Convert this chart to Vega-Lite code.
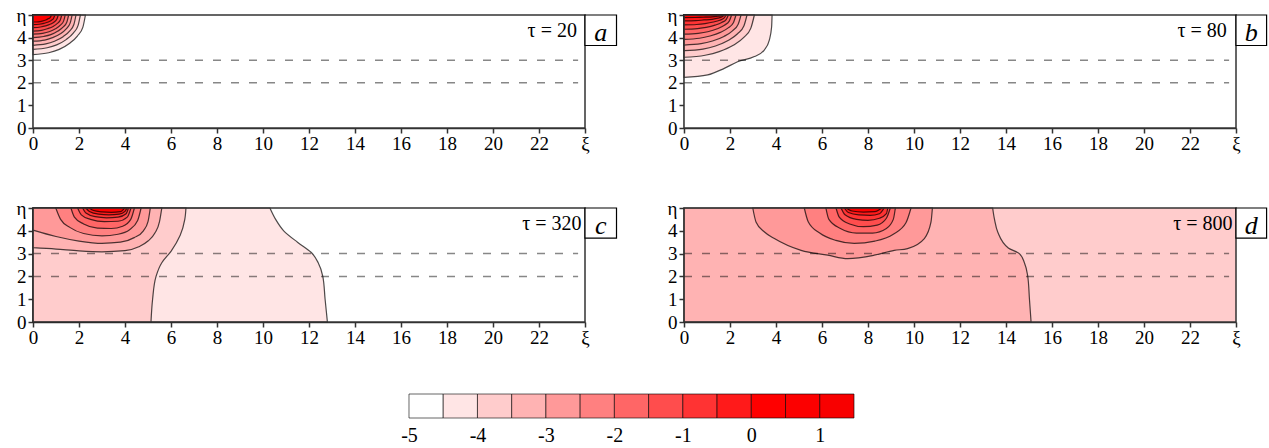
{
  "$schema": "https://vega.github.io/schema/vega-lite/v6.json",
  "padding": {"left": 16, "top": 6, "right": 2, "bottom": 2},
  "background": "#ffffff",
  "config": {
    "view": {"stroke": null},
    "font": "Liberation Serif",
    "text": {"font": "Liberation Serif"},
    "axis": {"domainColor": "#333333", "domainWidth": 1.5, "tickColor": "#333333", "tickWidth": 1.5, "tickSize": 5, "labelFont": "Liberation Serif", "labelFontSize": 19, "labelColor": "#000000", "grid": false, "labelFlush": false, "labelOverlap": false}
  },
  "datasets": {
    "rings": [
      {"p":"a","lv":"L02","x":0,"y":3.25},{"p":"a","lv":"L02","x":0.684,"y":3.33},{"p":"a","lv":"L02","x":1.14,"y":3.48},{"p":"a","lv":"L02","x":1.596,"y":3.75},{"p":"a","lv":"L02","x":1.938,"y":4.08},{"p":"a","lv":"L02","x":2.166,"y":4.45},{"p":"a","lv":"L02","x":2.28,"y":5},
      {"p":"a","lv":"L03","x":0,"y":3.48},{"p":"a","lv":"L03","x":0.618,"y":3.55},{"p":"a","lv":"L03","x":1.03,"y":3.68},{"p":"a","lv":"L03","x":1.442,"y":3.91},{"p":"a","lv":"L03","x":1.751,"y":4.2},{"p":"a","lv":"L03","x":1.957,"y":4.53},{"p":"a","lv":"L03","x":2.06,"y":5},
      {"p":"a","lv":"L04","x":0,"y":3.66},{"p":"a","lv":"L04","x":0.561,"y":3.72},{"p":"a","lv":"L04","x":0.935,"y":3.84},{"p":"a","lv":"L04","x":1.309,"y":4.04},{"p":"a","lv":"L04","x":1.59,"y":4.29},{"p":"a","lv":"L04","x":1.777,"y":4.58},{"p":"a","lv":"L04","x":1.87,"y":5},
      {"p":"a","lv":"L05","x":0,"y":3.84},{"p":"a","lv":"L05","x":0.51,"y":3.89},{"p":"a","lv":"L05","x":0.85,"y":4.0},{"p":"a","lv":"L05","x":1.19,"y":4.17},{"p":"a","lv":"L05","x":1.445,"y":4.39},{"p":"a","lv":"L05","x":1.615,"y":4.64},{"p":"a","lv":"L05","x":1.7,"y":5},
      {"p":"a","lv":"L06","x":0,"y":4.0},{"p":"a","lv":"L06","x":0.465,"y":4.05},{"p":"a","lv":"L06","x":0.775,"y":4.13},{"p":"a","lv":"L06","x":1.085,"y":4.29},{"p":"a","lv":"L06","x":1.318,"y":4.47},{"p":"a","lv":"L06","x":1.473,"y":4.69},{"p":"a","lv":"L06","x":1.55,"y":5},
      {"p":"a","lv":"L07","x":0,"y":4.15},{"p":"a","lv":"L07","x":0.42,"y":4.19},{"p":"a","lv":"L07","x":0.7,"y":4.26},{"p":"a","lv":"L07","x":0.98,"y":4.39},{"p":"a","lv":"L07","x":1.19,"y":4.55},{"p":"a","lv":"L07","x":1.33,"y":4.73},{"p":"a","lv":"L07","x":1.4,"y":5},
      {"p":"a","lv":"L08","x":0,"y":4.29},{"p":"a","lv":"L08","x":0.375,"y":4.32},{"p":"a","lv":"L08","x":0.625,"y":4.39},{"p":"a","lv":"L08","x":0.875,"y":4.49},{"p":"a","lv":"L08","x":1.063,"y":4.63},{"p":"a","lv":"L08","x":1.188,"y":4.78},{"p":"a","lv":"L08","x":1.25,"y":5},
      {"p":"a","lv":"L09","x":0,"y":4.44},{"p":"a","lv":"L09","x":0.33,"y":4.47},{"p":"a","lv":"L09","x":0.55,"y":4.52},{"p":"a","lv":"L09","x":0.77,"y":4.6},{"p":"a","lv":"L09","x":0.935,"y":4.7},{"p":"a","lv":"L09","x":1.045,"y":4.83},{"p":"a","lv":"L09","x":1.1,"y":5},
      {"p":"a","lv":"L10","x":0,"y":4.57},{"p":"a","lv":"L10","x":0.285,"y":4.59},{"p":"a","lv":"L10","x":0.475,"y":4.63},{"p":"a","lv":"L10","x":0.665,"y":4.69},{"p":"a","lv":"L10","x":0.808,"y":4.77},{"p":"a","lv":"L10","x":0.903,"y":4.87},{"p":"a","lv":"L10","x":0.95,"y":5},
      {"p":"a","lv":"L11","x":0,"y":4.69},{"p":"a","lv":"L11","x":0.24,"y":4.7},{"p":"a","lv":"L11","x":0.4,"y":4.73},{"p":"a","lv":"L11","x":0.56,"y":4.78},{"p":"a","lv":"L11","x":0.68,"y":4.84},{"p":"a","lv":"L11","x":0.76,"y":4.9},{"p":"a","lv":"L11","x":0.8,"y":5},

      {"p":"b","lv":"L02","x":0,"y":2.24},{"p":"b","lv":"L02","x":1.03,"y":2.35},{"p":"b","lv":"L02","x":1.75,"y":2.64},{"p":"b","lv":"L02","x":2.33,"y":2.93},{"p":"b","lv":"L02","x":3.06,"y":3.16},{"p":"b","lv":"L02","x":3.49,"y":3.45},{"p":"b","lv":"L02","x":3.71,"y":3.89},{"p":"b","lv":"L02","x":3.81,"y":4.48},{"p":"b","lv":"L02","x":3.83,"y":5},
      {"p":"b","lv":"L03","x":0,"y":3.13},{"p":"b","lv":"L03","x":0.918,"y":3.22},{"p":"b","lv":"L03","x":1.53,"y":3.38},{"p":"b","lv":"L03","x":2.142,"y":3.66},{"p":"b","lv":"L03","x":2.601,"y":4.01},{"p":"b","lv":"L03","x":2.907,"y":4.42},{"p":"b","lv":"L03","x":3.06,"y":5},
      {"p":"b","lv":"L04","x":0,"y":3.42},{"p":"b","lv":"L04","x":0.822,"y":3.49},{"p":"b","lv":"L04","x":1.37,"y":3.63},{"p":"b","lv":"L04","x":1.918,"y":3.87},{"p":"b","lv":"L04","x":2.329,"y":4.17},{"p":"b","lv":"L04","x":2.603,"y":4.51},{"p":"b","lv":"L04","x":2.74,"y":5},
      {"p":"b","lv":"L05","x":0,"y":3.67},{"p":"b","lv":"L05","x":0.744,"y":3.73},{"p":"b","lv":"L05","x":1.24,"y":3.85},{"p":"b","lv":"L05","x":1.736,"y":4.05},{"p":"b","lv":"L05","x":2.108,"y":4.3},{"p":"b","lv":"L05","x":2.356,"y":4.59},{"p":"b","lv":"L05","x":2.48,"y":5},
      {"p":"b","lv":"L06","x":0,"y":3.92},{"p":"b","lv":"L06","x":0.678,"y":3.97},{"p":"b","lv":"L06","x":1.13,"y":4.07},{"p":"b","lv":"L06","x":1.582,"y":4.23},{"p":"b","lv":"L06","x":1.921,"y":4.43},{"p":"b","lv":"L06","x":2.147,"y":4.66},{"p":"b","lv":"L06","x":2.26,"y":5},
      {"p":"b","lv":"L07","x":0,"y":4.15},{"p":"b","lv":"L07","x":0.621,"y":4.19},{"p":"b","lv":"L07","x":1.035,"y":4.26},{"p":"b","lv":"L07","x":1.449,"y":4.39},{"p":"b","lv":"L07","x":1.76,"y":4.55},{"p":"b","lv":"L07","x":1.967,"y":4.73},{"p":"b","lv":"L07","x":2.07,"y":5},
      {"p":"b","lv":"L08","x":0,"y":4.37},{"p":"b","lv":"L08","x":0.579,"y":4.4},{"p":"b","lv":"L08","x":0.965,"y":4.45},{"p":"b","lv":"L08","x":1.351,"y":4.55},{"p":"b","lv":"L08","x":1.641,"y":4.67},{"p":"b","lv":"L08","x":1.834,"y":4.8},{"p":"b","lv":"L08","x":1.93,"y":5},
      {"p":"b","lv":"L09","x":0,"y":4.56},{"p":"b","lv":"L09","x":0.549,"y":4.58},{"p":"b","lv":"L09","x":0.915,"y":4.62},{"p":"b","lv":"L09","x":1.281,"y":4.69},{"p":"b","lv":"L09","x":1.556,"y":4.77},{"p":"b","lv":"L09","x":1.739,"y":4.86},{"p":"b","lv":"L09","x":1.83,"y":5},
      {"p":"b","lv":"L10","x":0,"y":4.74},{"p":"b","lv":"L10","x":0.522,"y":4.75},{"p":"b","lv":"L10","x":0.87,"y":4.78},{"p":"b","lv":"L10","x":1.218,"y":4.81},{"p":"b","lv":"L10","x":1.479,"y":4.86},{"p":"b","lv":"L10","x":1.653,"y":4.92},{"p":"b","lv":"L10","x":1.74,"y":5},
      {"p":"b","lv":"L11","x":0,"y":4.88},{"p":"b","lv":"L11","x":0.498,"y":4.89},{"p":"b","lv":"L11","x":0.83,"y":4.9},{"p":"b","lv":"L11","x":1.162,"y":4.91},{"p":"b","lv":"L11","x":1.411,"y":4.94},{"p":"b","lv":"L11","x":1.577,"y":4.96},{"p":"b","lv":"L11","x":1.66,"y":5},

      {"p":"c","lv":"L04","x":0,"y":3.26},{"p":"c","lv":"L04","x":1,"y":3.2},{"p":"c","lv":"L04","x":2,"y":3.12},{"p":"c","lv":"L04","x":3,"y":3.08},{"p":"c","lv":"L04","x":4,"y":3.13},{"p":"c","lv":"L04","x":4.6,"y":3.3},{"p":"c","lv":"L04","x":5.0,"y":3.55},{"p":"c","lv":"L04","x":5.3,"y":3.9},{"p":"c","lv":"L04","x":5.5,"y":4.4},{"p":"c","lv":"L04","x":5.6,"y":5},
      {"p":"c","lv":"L05","x":0,"y":4.03},{"p":"c","lv":"L05","x":1,"y":3.75},{"p":"c","lv":"L05","x":2,"y":3.55},{"p":"c","lv":"L05","x":3,"y":3.45},{"p":"c","lv":"L05","x":3.8,"y":3.5},{"p":"c","lv":"L05","x":4.4,"y":3.7},{"p":"c","lv":"L05","x":4.8,"y":4.0},{"p":"c","lv":"L05","x":5.0,"y":4.4},{"p":"c","lv":"L05","x":5.1,"y":5},
      {"p":"c","lv":"L06","x":0.99,"y":5},{"p":"c","lv":"L06","x":1.2,"y":4.5},{"p":"c","lv":"L06","x":1.6,"y":4.15},{"p":"c","lv":"L06","x":2.2,"y":3.88},{"p":"c","lv":"L06","x":3.0,"y":3.78},{"p":"c","lv":"L06","x":3.7,"y":3.85},{"p":"c","lv":"L06","x":4.2,"y":4.05},{"p":"c","lv":"L06","x":4.55,"y":4.45},{"p":"c","lv":"L06","x":4.7,"y":5},
      {"p":"c","lv":"L07","x":1.65,"y":5},{"p":"c","lv":"L07","x":1.8,"y":4.6},{"p":"c","lv":"L07","x":2.2,"y":4.3},{"p":"c","lv":"L07","x":2.8,"y":4.12},{"p":"c","lv":"L07","x":3.4,"y":4.1},{"p":"c","lv":"L07","x":3.9,"y":4.2},{"p":"c","lv":"L07","x":4.25,"y":4.5},{"p":"c","lv":"L07","x":4.41,"y":5},
      {"p":"c","lv":"L08","x":1.94,"y":5},{"p":"c","lv":"L08","x":2.1,"y":4.7},{"p":"c","lv":"L08","x":2.5,"y":4.5},{"p":"c","lv":"L08","x":3.1,"y":4.4},{"p":"c","lv":"L08","x":3.7,"y":4.42},{"p":"c","lv":"L08","x":4.1,"y":4.6},{"p":"c","lv":"L08","x":4.26,"y":5},
      {"p":"c","lv":"L09","x":2.16,"y":5},{"p":"c","lv":"L09","x":2.3,"y":4.78},{"p":"c","lv":"L09","x":2.7,"y":4.62},{"p":"c","lv":"L09","x":3.2,"y":4.57},{"p":"c","lv":"L09","x":3.7,"y":4.6},{"p":"c","lv":"L09","x":4.05,"y":4.75},{"p":"c","lv":"L09","x":4.15,"y":5},
      {"p":"c","lv":"L10","x":2.3,"y":5},{"p":"c","lv":"L10","x":2.45,"y":4.85},{"p":"c","lv":"L10","x":2.85,"y":4.73},{"p":"c","lv":"L10","x":3.3,"y":4.7},{"p":"c","lv":"L10","x":3.75,"y":4.73},{"p":"c","lv":"L10","x":4.0,"y":4.85},{"p":"c","lv":"L10","x":4.08,"y":5},
      {"p":"c","lv":"L11","x":2.45,"y":5},{"p":"c","lv":"L11","x":2.6,"y":4.9},{"p":"c","lv":"L11","x":3.0,"y":4.83},{"p":"c","lv":"L11","x":3.4,"y":4.81},{"p":"c","lv":"L11","x":3.8,"y":4.84},{"p":"c","lv":"L11","x":3.98,"y":5},

      {"p":"d","lv":"L05","x":2.99,"y":5},{"p":"d","lv":"L05","x":3.13,"y":4.39},{"p":"d","lv":"L05","x":3.5,"y":3.95},{"p":"d","lv":"L05","x":3.93,"y":3.66},{"p":"d","lv":"L05","x":5.09,"y":3.14},{"p":"d","lv":"L05","x":6.25,"y":2.93},{"p":"d","lv":"L05","x":7.12,"y":2.78},{"p":"d","lv":"L05","x":8.27,"y":2.93},{"p":"d","lv":"L05","x":9.14,"y":3.14},{"p":"d","lv":"L05","x":9.72,"y":3.22},{"p":"d","lv":"L05","x":10.45,"y":3.66},{"p":"d","lv":"L05","x":10.74,"y":4.39},{"p":"d","lv":"L05","x":10.8,"y":5},
      {"p":"d","lv":"L06","x":5.23,"y":5},{"p":"d","lv":"L06","x":5.4,"y":4.4},{"p":"d","lv":"L06","x":5.9,"y":3.9},{"p":"d","lv":"L06","x":6.6,"y":3.58},{"p":"d","lv":"L06","x":7.4,"y":3.45},{"p":"d","lv":"L06","x":8.3,"y":3.55},{"p":"d","lv":"L06","x":9.1,"y":3.85},{"p":"d","lv":"L06","x":9.65,"y":4.35},{"p":"d","lv":"L06","x":9.87,"y":5},
      {"p":"d","lv":"L07","x":6.17,"y":5},{"p":"d","lv":"L07","x":6.3,"y":4.5},{"p":"d","lv":"L07","x":6.8,"y":4.1},{"p":"d","lv":"L07","x":7.5,"y":3.9},{"p":"d","lv":"L07","x":8.2,"y":3.9},{"p":"d","lv":"L07","x":8.8,"y":4.1},{"p":"d","lv":"L07","x":9.1,"y":4.5},{"p":"d","lv":"L07","x":9.19,"y":5},
      {"p":"d","lv":"L08","x":6.61,"y":5},{"p":"d","lv":"L08","x":6.75,"y":4.6},{"p":"d","lv":"L08","x":7.2,"y":4.3},{"p":"d","lv":"L08","x":7.8,"y":4.18},{"p":"d","lv":"L08","x":8.4,"y":4.25},{"p":"d","lv":"L08","x":8.8,"y":4.55},{"p":"d","lv":"L08","x":8.97,"y":5},
      {"p":"d","lv":"L09","x":6.83,"y":5},{"p":"d","lv":"L09","x":7.0,"y":4.7},{"p":"d","lv":"L09","x":7.5,"y":4.5},{"p":"d","lv":"L09","x":8.0,"y":4.46},{"p":"d","lv":"L09","x":8.5,"y":4.55},{"p":"d","lv":"L09","x":8.8,"y":4.75},{"p":"d","lv":"L09","x":8.86,"y":5},
      {"p":"d","lv":"L10","x":6.97,"y":5},{"p":"d","lv":"L10","x":7.15,"y":4.8},{"p":"d","lv":"L10","x":7.6,"y":4.7},{"p":"d","lv":"L10","x":8.1,"y":4.68},{"p":"d","lv":"L10","x":8.5,"y":4.75},{"p":"d","lv":"L10","x":8.7,"y":5},
      {"p":"d","lv":"L11","x":7.05,"y":5},{"p":"d","lv":"L11","x":7.3,"y":4.87},{"p":"d","lv":"L11","x":7.8,"y":4.82},{"p":"d","lv":"L11","x":8.3,"y":4.84},{"p":"d","lv":"L11","x":8.6,"y":5}
    ],
    "bounds": [
      {"p":"c","lv":"L02","y":0,"x":12.8},{"p":"c","lv":"L02","y":1,"x":12.7},{"p":"c","lv":"L02","y":2,"x":12.6},{"p":"c","lv":"L02","y":2.6,"x":12.4},{"p":"c","lv":"L02","y":3.05,"x":12.1},{"p":"c","lv":"L02","y":3.5,"x":11.5},{"p":"c","lv":"L02","y":4.0,"x":10.9},{"p":"c","lv":"L02","y":4.5,"x":10.55},{"p":"c","lv":"L02","y":5,"x":10.3},
      {"p":"c","lv":"L03","y":0,"x":5.13},{"p":"c","lv":"L03","y":1,"x":5.2},{"p":"c","lv":"L03","y":2,"x":5.35},{"p":"c","lv":"L03","y":2.6,"x":5.6},{"p":"c","lv":"L03","y":3.1,"x":6.0},{"p":"c","lv":"L03","y":3.8,"x":6.4},{"p":"c","lv":"L03","y":4.5,"x":6.6},{"p":"c","lv":"L03","y":5,"x":6.65},
      {"p":"d","lv":"L04","y":0,"x":15.09},{"p":"d","lv":"L04","y":1,"x":15.02},{"p":"d","lv":"L04","y":2.05,"x":14.94},{"p":"d","lv":"L04","y":2.6,"x":14.8},{"p":"d","lv":"L04","y":3.0,"x":14.58},{"p":"d","lv":"L04","y":3.25,"x":14.1},{"p":"d","lv":"L04","y":3.95,"x":13.64},{"p":"d","lv":"L04","y":4.5,"x":13.5},{"p":"d","lv":"L04","y":5,"x":13.42}
    ],
    "legend": [
      {"lo":-5,"hi":-4.5,"lv":"L01"},{"lo":-4.5,"hi":-4,"lv":"L02"},{"lo":-4,"hi":-3.5,"lv":"L03"},{"lo":-3.5,"hi":-3,"lv":"L04"},{"lo":-3,"hi":-2.5,"lv":"L05"},{"lo":-2.5,"hi":-2,"lv":"L06"},{"lo":-2,"hi":-1.5,"lv":"L07"},{"lo":-1.5,"hi":-1,"lv":"L08"},{"lo":-1,"hi":-0.5,"lv":"L09"},{"lo":-0.5,"hi":0,"lv":"L10"},{"lo":0,"hi":0.5,"lv":"L11"},{"lo":0.5,"hi":1,"lv":"L12"},{"lo":1,"hi":1.5,"lv":"L13"}
    ]
  },
  "vconcat": [
    {
      "hconcat": [
        {
          "width": 552, "height": 113,
          "resolve": {"axis": {"x": "independent", "y": "independent"}},
          "layer": [
            {"data": {"values": [{}]}, "mark": {"type": "rect", "fill": "#ffffff"}, "encoding": {"x": {"datum": 0, "type": "quantitative", "scale": {"domain": [0, 24], "nice": false, "zero": false}, "axis": {"title": null, "values": [0,2,4,6,8,10,12,14,16,18,20,22,24], "labelExpr": "datum.value == 24 ? 'ξ' : datum.label", "labelPadding": 1, "labelOverlap": false}}, "x2": {"datum": 24}, "y": {"datum": 0, "type": "quantitative", "scale": {"domain": [0, 5], "nice": false, "zero": false}, "axis": {"title": null, "values": [0,1,2,3,4,5], "labelExpr": "datum.value == 5 ? 'η' : datum.label", "labelPadding": 2, "labelOverlap": false}}, "y2": {"datum": 5}}},
            {"data": {"name": "rings"}, "transform": [{"filter": "datum.p == 'a'"}], "mark": {"type": "area", "interpolate": "monotone", "stroke": "#000000", "strokeOpacity": 0.7, "strokeWidth": 1.2}, "encoding": {"x": {"field": "x", "type": "quantitative", "axis": null}, "y": {"field": "y", "type": "quantitative", "stack": null, "axis": null}, "y2": {"datum": 5}, "fill": {"field": "lv", "type": "nominal", "legend": null, "scale": {"domain": ["L01","L02","L03","L04","L05","L06","L07","L08","L09","L10","L11","L12","L13"], "range": ["#ffffff","#ffe5e5","#ffcccc","#ffb3b3","#ff9999","#ff8080","#ff6666","#ff4d4d","#ff3333","#ff1a1a","#ff0000","#fc0000","#f80000"]}}}},
            {"data": {"values": [{"eta": 2}, {"eta": 3}]}, "mark": {"type": "rule", "color": "#000000", "opacity": 0.47, "strokeWidth": 1.5, "strokeDash": [8, 10]}, "encoding": {"x": {"datum": 0, "type": "quantitative", "axis": null}, "x2": {"datum": 23.7}, "y": {"field": "eta", "type": "quantitative", "axis": null}}},
            {"data": {"values": [{}]}, "mark": {"type": "rect", "filled": false, "stroke": "#333333", "strokeWidth": 1.5}, "encoding": {"x": {"datum": 0, "type": "quantitative", "axis": null}, "x2": {"datum": 24}, "y": {"datum": 0, "type": "quantitative", "axis": null}, "y2": {"datum": 5}}},
            {"data": {"values": [{}]}, "mark": {"type": "text", "text": "τ = 20", "align": "right", "baseline": "alphabetic", "fontSize": 20, "color": "#000000"}, "encoding": {"x": {"datum": 23.65, "type": "quantitative", "axis": null}, "y": {"datum": 4.03, "type": "quantitative", "axis": null}}},
            {"data": {"values": [{}]}, "mark": {"type": "rect", "fill": "#ffffff", "stroke": "#000000", "strokeWidth": 1.2}, "encoding": {"x": {"datum": 24, "type": "quantitative", "axis": null}, "x2": {"datum": 25.37}, "y": {"datum": 5, "type": "quantitative", "axis": null}, "y2": {"datum": 3.65}}},
            {"data": {"values": [{}]}, "mark": {"type": "text", "text": "a", "align": "center", "baseline": "alphabetic", "fontStyle": "italic", "fontSize": 26, "color": "#000000"}, "encoding": {"x": {"datum": 24.685, "type": "quantitative", "axis": null}, "y": {"datum": 3.84, "type": "quantitative", "axis": null}}}
          ]
        },
        {
          "width": 552, "height": 113,
          "resolve": {"axis": {"x": "independent", "y": "independent"}},
          "layer": [
            {"data": {"values": [{}]}, "mark": {"type": "rect", "fill": "#ffffff"}, "encoding": {"x": {"datum": 0, "type": "quantitative", "scale": {"domain": [0, 24], "nice": false, "zero": false}, "axis": {"title": null, "values": [0,2,4,6,8,10,12,14,16,18,20,22,24], "labelExpr": "datum.value == 24 ? 'ξ' : datum.label", "labelPadding": 1, "labelOverlap": false}}, "x2": {"datum": 24}, "y": {"datum": 0, "type": "quantitative", "scale": {"domain": [0, 5], "nice": false, "zero": false}, "axis": {"title": null, "values": [0,1,2,3,4,5], "labelExpr": "datum.value == 5 ? 'η' : datum.label", "labelPadding": 2, "labelOverlap": false}}, "y2": {"datum": 5}}},
            {"data": {"name": "rings"}, "transform": [{"filter": "datum.p == 'b'"}], "mark": {"type": "area", "interpolate": "monotone", "stroke": "#000000", "strokeOpacity": 0.7, "strokeWidth": 1.2}, "encoding": {"x": {"field": "x", "type": "quantitative", "axis": null}, "y": {"field": "y", "type": "quantitative", "stack": null, "axis": null}, "y2": {"datum": 5}, "fill": {"field": "lv", "type": "nominal", "legend": null, "scale": {"domain": ["L01","L02","L03","L04","L05","L06","L07","L08","L09","L10","L11","L12","L13"], "range": ["#ffffff","#ffe5e5","#ffcccc","#ffb3b3","#ff9999","#ff8080","#ff6666","#ff4d4d","#ff3333","#ff1a1a","#ff0000","#fc0000","#f80000"]}}}},
            {"data": {"values": [{"eta": 2}, {"eta": 3}]}, "mark": {"type": "rule", "color": "#000000", "opacity": 0.47, "strokeWidth": 1.5, "strokeDash": [8, 10]}, "encoding": {"x": {"datum": 0, "type": "quantitative", "axis": null}, "x2": {"datum": 23.7}, "y": {"field": "eta", "type": "quantitative", "axis": null}}},
            {"data": {"values": [{}]}, "mark": {"type": "rect", "filled": false, "stroke": "#333333", "strokeWidth": 1.5}, "encoding": {"x": {"datum": 0, "type": "quantitative", "axis": null}, "x2": {"datum": 24}, "y": {"datum": 0, "type": "quantitative", "axis": null}, "y2": {"datum": 5}}},
            {"data": {"values": [{}]}, "mark": {"type": "text", "text": "τ = 80", "align": "right", "baseline": "alphabetic", "fontSize": 20, "color": "#000000"}, "encoding": {"x": {"datum": 23.6, "type": "quantitative", "axis": null}, "y": {"datum": 4.03, "type": "quantitative", "axis": null}}},
            {"data": {"values": [{}]}, "mark": {"type": "rect", "fill": "#ffffff", "stroke": "#000000", "strokeWidth": 1.2}, "encoding": {"x": {"datum": 24, "type": "quantitative", "axis": null}, "x2": {"datum": 25.33}, "y": {"datum": 5, "type": "quantitative", "axis": null}, "y2": {"datum": 3.65}}},
            {"data": {"values": [{}]}, "mark": {"type": "text", "text": "b", "align": "center", "baseline": "alphabetic", "fontStyle": "italic", "fontSize": 26, "color": "#000000"}, "encoding": {"x": {"datum": 24.665, "type": "quantitative", "axis": null}, "y": {"datum": 3.84, "type": "quantitative", "axis": null}}}
          ]
        }
      ],
      "spacing": 99,
      "bounds": "flush"
    },
    {
      "hconcat": [
        {
          "width": 552, "height": 114,
          "resolve": {"axis": {"x": "independent", "y": "independent"}},
          "layer": [
            {"data": {"values": [{}]}, "mark": {"type": "rect", "fill": "#ffffff"}, "encoding": {"x": {"datum": 0, "type": "quantitative", "scale": {"domain": [0, 24], "nice": false, "zero": false}, "axis": {"title": null, "values": [0,2,4,6,8,10,12,14,16,18,20,22,24], "labelExpr": "datum.value == 24 ? 'ξ' : datum.label", "labelPadding": 1, "labelOverlap": false}}, "x2": {"datum": 24}, "y": {"datum": 0, "type": "quantitative", "scale": {"domain": [0, 5], "nice": false, "zero": false}, "axis": {"title": null, "values": [0,1,2,3,4,5], "labelExpr": "datum.value == 5 ? 'η' : datum.label", "labelPadding": 2, "labelOverlap": false}}, "y2": {"datum": 5}}},
            {"data": {"name": "bounds"}, "transform": [{"filter": "datum.p == 'c'"}], "mark": {"type": "area", "orient": "horizontal", "interpolate": "monotone", "stroke": "#000000", "strokeOpacity": 0.7, "strokeWidth": 1.2}, "encoding": {"y": {"field": "y", "type": "quantitative", "axis": null}, "x": {"field": "x", "type": "quantitative", "stack": null, "axis": null}, "x2": {"datum": 0}, "fill": {"field": "lv", "type": "nominal", "legend": null, "scale": {"domain": ["L01","L02","L03","L04","L05","L06","L07","L08","L09","L10","L11","L12","L13"], "range": ["#ffffff","#ffe5e5","#ffcccc","#ffb3b3","#ff9999","#ff8080","#ff6666","#ff4d4d","#ff3333","#ff1a1a","#ff0000","#fc0000","#f80000"]}}}},
            {"data": {"name": "rings"}, "transform": [{"filter": "datum.p == 'c'"}], "mark": {"type": "area", "interpolate": "monotone", "stroke": "#000000", "strokeOpacity": 0.7, "strokeWidth": 1.2}, "encoding": {"x": {"field": "x", "type": "quantitative", "axis": null}, "y": {"field": "y", "type": "quantitative", "stack": null, "axis": null}, "y2": {"datum": 5}, "fill": {"field": "lv", "type": "nominal", "legend": null, "scale": {"domain": ["L01","L02","L03","L04","L05","L06","L07","L08","L09","L10","L11","L12","L13"], "range": ["#ffffff","#ffe5e5","#ffcccc","#ffb3b3","#ff9999","#ff8080","#ff6666","#ff4d4d","#ff3333","#ff1a1a","#ff0000","#fc0000","#f80000"]}}}},
            {"data": {"values": [{"eta": 2}, {"eta": 3}]}, "mark": {"type": "rule", "color": "#000000", "opacity": 0.47, "strokeWidth": 1.5, "strokeDash": [8, 10]}, "encoding": {"x": {"datum": 0, "type": "quantitative", "axis": null}, "x2": {"datum": 23.7}, "y": {"field": "eta", "type": "quantitative", "axis": null}}},
            {"data": {"values": [{}]}, "mark": {"type": "rect", "filled": false, "stroke": "#333333", "strokeWidth": 1.5}, "encoding": {"x": {"datum": 0, "type": "quantitative", "axis": null}, "x2": {"datum": 24}, "y": {"datum": 0, "type": "quantitative", "axis": null}, "y2": {"datum": 5}}},
            {"data": {"values": [{}]}, "mark": {"type": "text", "text": "τ = 320", "align": "right", "baseline": "alphabetic", "fontSize": 20, "color": "#000000"}, "encoding": {"x": {"datum": 23.85, "type": "quantitative", "axis": null}, "y": {"datum": 4.03, "type": "quantitative", "axis": null}}},
            {"data": {"values": [{}]}, "mark": {"type": "rect", "fill": "#ffffff", "stroke": "#000000", "strokeWidth": 1.2}, "encoding": {"x": {"datum": 24, "type": "quantitative", "axis": null}, "x2": {"datum": 25.37}, "y": {"datum": 5, "type": "quantitative", "axis": null}, "y2": {"datum": 3.68}}},
            {"data": {"values": [{}]}, "mark": {"type": "text", "text": "c", "align": "center", "baseline": "alphabetic", "fontStyle": "italic", "fontSize": 26, "color": "#000000"}, "encoding": {"x": {"datum": 24.685, "type": "quantitative", "axis": null}, "y": {"datum": 3.88, "type": "quantitative", "axis": null}}}
          ]
        },
        {
          "width": 552, "height": 114,
          "resolve": {"axis": {"x": "independent", "y": "independent"}},
          "layer": [
            {"data": {"values": [{}]}, "mark": {"type": "rect", "fill": "#ffcccc"}, "encoding": {"x": {"datum": 0, "type": "quantitative", "scale": {"domain": [0, 24], "nice": false, "zero": false}, "axis": {"title": null, "values": [0,2,4,6,8,10,12,14,16,18,20,22,24], "labelExpr": "datum.value == 24 ? 'ξ' : datum.label", "labelPadding": 1, "labelOverlap": false}}, "x2": {"datum": 24}, "y": {"datum": 0, "type": "quantitative", "scale": {"domain": [0, 5], "nice": false, "zero": false}, "axis": {"title": null, "values": [0,1,2,3,4,5], "labelExpr": "datum.value == 5 ? 'η' : datum.label", "labelPadding": 2, "labelOverlap": false}}, "y2": {"datum": 5}}},
            {"data": {"name": "bounds"}, "transform": [{"filter": "datum.p == 'd'"}], "mark": {"type": "area", "orient": "horizontal", "interpolate": "monotone", "stroke": "#000000", "strokeOpacity": 0.7, "strokeWidth": 1.2}, "encoding": {"y": {"field": "y", "type": "quantitative", "axis": null}, "x": {"field": "x", "type": "quantitative", "stack": null, "axis": null}, "x2": {"datum": 0}, "fill": {"field": "lv", "type": "nominal", "legend": null, "scale": {"domain": ["L01","L02","L03","L04","L05","L06","L07","L08","L09","L10","L11","L12","L13"], "range": ["#ffffff","#ffe5e5","#ffcccc","#ffb3b3","#ff9999","#ff8080","#ff6666","#ff4d4d","#ff3333","#ff1a1a","#ff0000","#fc0000","#f80000"]}}}},
            {"data": {"name": "rings"}, "transform": [{"filter": "datum.p == 'd'"}], "mark": {"type": "area", "interpolate": "monotone", "stroke": "#000000", "strokeOpacity": 0.7, "strokeWidth": 1.2}, "encoding": {"x": {"field": "x", "type": "quantitative", "axis": null}, "y": {"field": "y", "type": "quantitative", "stack": null, "axis": null}, "y2": {"datum": 5}, "fill": {"field": "lv", "type": "nominal", "legend": null, "scale": {"domain": ["L01","L02","L03","L04","L05","L06","L07","L08","L09","L10","L11","L12","L13"], "range": ["#ffffff","#ffe5e5","#ffcccc","#ffb3b3","#ff9999","#ff8080","#ff6666","#ff4d4d","#ff3333","#ff1a1a","#ff0000","#fc0000","#f80000"]}}}},
            {"data": {"values": [{"eta": 2}, {"eta": 3}]}, "mark": {"type": "rule", "color": "#000000", "opacity": 0.47, "strokeWidth": 1.5, "strokeDash": [8, 10]}, "encoding": {"x": {"datum": 0, "type": "quantitative", "axis": null}, "x2": {"datum": 23.7}, "y": {"field": "eta", "type": "quantitative", "axis": null}}},
            {"data": {"values": [{}]}, "mark": {"type": "rect", "filled": false, "stroke": "#333333", "strokeWidth": 1.5}, "encoding": {"x": {"datum": 0, "type": "quantitative", "axis": null}, "x2": {"datum": 24}, "y": {"datum": 0, "type": "quantitative", "axis": null}, "y2": {"datum": 5}}},
            {"data": {"values": [{}]}, "mark": {"type": "text", "text": "τ = 800", "align": "right", "baseline": "alphabetic", "fontSize": 20, "color": "#000000"}, "encoding": {"x": {"datum": 23.85, "type": "quantitative", "axis": null}, "y": {"datum": 4.03, "type": "quantitative", "axis": null}}},
            {"data": {"values": [{}]}, "mark": {"type": "rect", "fill": "#ffffff", "stroke": "#000000", "strokeWidth": 1.2}, "encoding": {"x": {"datum": 24, "type": "quantitative", "axis": null}, "x2": {"datum": 25.33}, "y": {"datum": 5, "type": "quantitative", "axis": null}, "y2": {"datum": 3.68}}},
            {"data": {"values": [{}]}, "mark": {"type": "text", "text": "d", "align": "center", "baseline": "alphabetic", "fontStyle": "italic", "fontSize": 26, "color": "#000000"}, "encoding": {"x": {"datum": 24.665, "type": "quantitative", "axis": null}, "y": {"datum": 3.88, "type": "quantitative", "axis": null}}}
          ]
        }
      ],
      "spacing": 99,
      "bounds": "flush"
    },
    {
      "width": 821, "height": 24,
      "data": {"name": "legend"},
      "mark": {"type": "rect", "stroke": "#000000", "strokeOpacity": 0.6, "strokeWidth": 1},
      "encoding": {
        "x": {"field": "lo", "type": "quantitative", "scale": {"domain": [-10.492, 1.5], "nice": false, "zero": false}, "axis": {"title": null, "values": [-5,-4,-3,-2,-1,0,1], "labelExpr": "'' + datum.value", "domain": false, "ticks": false, "labelPadding": 7, "labelFontSize": 20}},
        "x2": {"field": "hi"},
        "fill": {"field": "lv", "type": "nominal", "legend": null, "scale": {"domain": ["L01","L02","L03","L04","L05","L06","L07","L08","L09","L10","L11","L12","L13"], "range": ["#ffffff","#ffe5e5","#ffcccc","#ffb3b3","#ff9999","#ff8080","#ff6666","#ff4d4d","#ff3333","#ff1a1a","#ff0000","#fc0000","#f80000"]}}
      }
    }
  ],
  "spacing": 46
}
